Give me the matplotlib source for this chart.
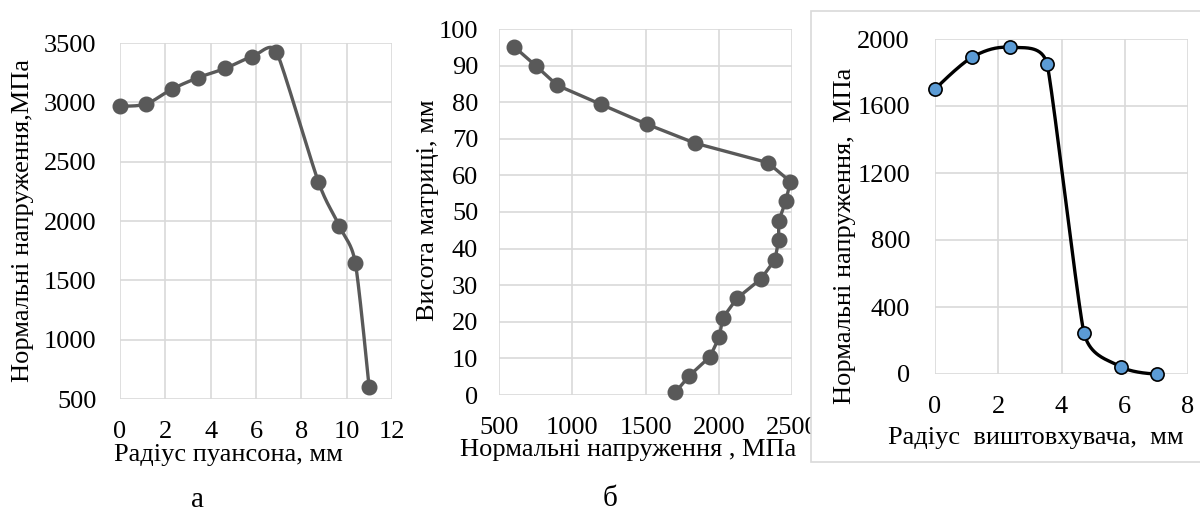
import numpy as np
import matplotlib
matplotlib.use("Agg")
import matplotlib.pyplot as plt
from matplotlib.patches import Rectangle

plt.rcParams['font.family'] = ['Liberation Serif', 'DejaVu Serif']

# panel a: punch radius vs normal stress
a_radius = [0.0, 1.13, 2.28, 3.45, 4.65, 5.82, 6.9, 8.75, 9.68, 10.38, 10.99]
a_stress = [2970, 2985, 3110, 3208, 3287, 3385, 3427, 2331, 1958, 1649, 599]

# panel b: normal stress vs die height
b_stress = [602, 750, 898, 1197, 1509, 1839, 2334, 2489, 2457, 2409, 2409,
            2384, 2290, 2124, 2028, 2003, 1941, 1800, 1703]
b_height = [95.2, 90.0, 84.6, 79.4, 74.0, 68.8, 63.5, 58.3, 52.9, 47.5, 42.3,
            37.0, 31.8, 26.4, 21.1, 15.8, 10.5, 5.3, 0.7]

# panel c: ejector radius vs normal stress
c_radius = [0.0, 1.18, 2.36, 3.54, 4.71, 5.87, 7.01]
c_stress = [1700, 1892, 1950, 1853, 247, 44, 0]

GRID = '#D9D9D9'
LINE = '#595959'
FS = 19

W, H = 1200, 513
fig = plt.figure(figsize=(W / 100, H / 100), dpi=100)


def box(l, r, t, b):
    return [l / W, 1 - b / H, (r - l) / W, (b - t) / H]


def smooth(ax, x, y, n=40):
    # Excel-like smoothed line: bezier, control arm |p2-p0|/6,
    # limited to half of the shorter neighbouring segment (screen space)
    x0, x1 = ax.get_xlim()
    y0, y1 = ax.get_ylim()
    bb = ax.get_position()
    sx = bb.width * W / (x1 - x0)
    sy = bb.height * H / (y1 - y0)
    P = np.column_stack([np.asarray(x, float) * sx, np.asarray(y, float) * sy])
    m = len(P)
    arms = np.zeros_like(P)
    for i in range(1, m - 1):
        T = P[i + 1] - P[i - 1]
        nt = np.hypot(*T)
        d = min(np.hypot(*(P[i] - P[i - 1])), np.hypot(*(P[i + 1] - P[i])))
        L = min(nt / 6, d / 2)
        arms[i] = T / nt * L if nt > 0 else 0
    out = [P[0]]
    for i in range(m - 1):
        p1, p2 = P[i], P[i + 1]
        c1 = p1 + arms[i]
        c2 = p2 - arms[i + 1]
        t = np.linspace(0, 1, n)[1:, None]
        seg = ((1 - t) ** 3) * p1 + 3 * ((1 - t) ** 2) * t * c1 + 3 * (1 - t) * t ** 2 * c2 + t ** 3 * p2
        out.extend(seg)
    out = np.array(out)
    return out[:, 0] / sx, out[:, 1] / sy


def style(ax):
    for s in ax.spines.values():
        s.set_visible(False)
    ax.grid(True, color=GRID, lw=1.2)
    ax.set_axisbelow(True)
    ax.tick_params(length=0, labelsize=FS)


# ---- panel a
ax1 = fig.add_axes(box(120, 392, 43, 399))
ax1.set_xlim(0, 12)
ax1.set_ylim(500, 3500)
ax1.set_xticks(range(0, 13, 2))
ax1.set_yticks(range(500, 3501, 500))
style(ax1)
ax1.tick_params(axis='y', pad=17)
ax1.tick_params(axis='x', pad=16)
sx, sy = smooth(ax1, a_radius, a_stress)
ax1.plot(sx, sy, color=LINE, lw=2.4, clip_on=False)
ax1.plot(a_radius, a_stress, 'o', color=LINE, ms=10.5, clip_on=False)
ax1.set_ylabel('Нормальні напруження,МПа', fontsize=FS, va='center')
ax1.yaxis.set_label_coords(-0.357, 0.5)
ax1.set_xlabel('Радіус пуансона, мм', fontsize=FS, va='center')
ax1.xaxis.set_label_coords(0.40, -0.157)

# ---- panel b
ax2 = fig.add_axes(box(499, 792, 29, 395))
ax2.set_xlim(500, 2500)
ax2.set_ylim(0, 100)
ax2.set_xticks(range(500, 2501, 500))
ax2.set_yticks(range(0, 101, 10))
style(ax2)
ax2.tick_params(axis='y', pad=15)
ax2.tick_params(axis='x', pad=16)
ax2.plot(b_stress, b_height, '-o', color=LINE, lw=2.4, ms=10.5, clip_on=False)
ax2.set_ylabel('Висота матриці, мм', fontsize=FS, va='center')
ax2.yaxis.set_label_coords(-0.2426, 0.505)
ax2.set_xlabel('Нормальні напруження , МПа', fontsize=FS, va='center')
ax2.xaxis.set_label_coords(0.4407, -0.150)

# ---- panel c frame (white, covers edge of panel b labels)
frame = Rectangle((811 / W, 1 - 462 / H), 400 / W, 451 / H, transform=fig.transFigure,
                  facecolor='white', edgecolor=GRID, lw=1.2, zorder=5)
fig.patches.append(frame)

ax3 = fig.add_axes(box(935, 1188, 39, 374))
ax3.set_zorder(10)
ax3.patch.set_alpha(0)
ax3.set_xlim(0, 8)
ax3.set_ylim(0, 2000)
ax3.set_xticks(range(0, 9, 2))
ax3.set_yticks(range(0, 2001, 400))
style(ax3)
ax3.tick_params(axis='y', pad=18)
ax3.tick_params(axis='x', pad=16)
sx, sy = smooth(ax3, c_radius, c_stress)
ax3.plot(sx, sy, color='black', lw=2.4, clip_on=False)
ax3.plot(c_radius, c_stress, 'o', mfc='#5B9BD5', mec='black', mew=1.2, ms=9.5, clip_on=False)
ax3.set_ylabel('Нормальні напруження,  МПа', fontsize=FS, va='center')
ax3.yaxis.set_label_coords(-0.355, 0.411)
ax3.set_xlabel('Радіус  виштовхувача,  мм', fontsize=FS, va='center')
ax3.xaxis.set_label_coords(0.40, -0.191)

# panel captions
fig.text(198 / W, 1 - 500 / H, 'а', fontsize=21, ha='center', va='center')
fig.text(610 / W, 1 - 499 / H, 'б', fontsize=21, ha='center', va='center')

fig.savefig('out.png', dpi=100)
